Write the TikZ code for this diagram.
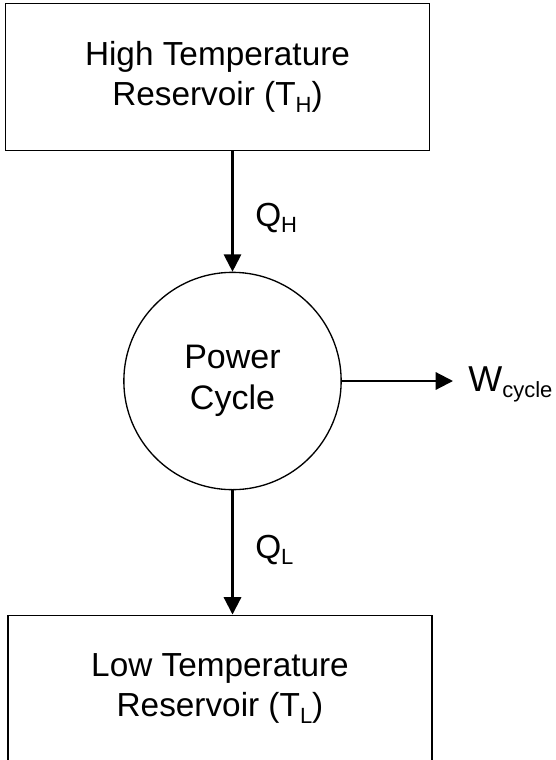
\documentclass[tikz,border=0pt]{standalone}
\usepackage{fontspec}
\setmainfont{Liberation Sans}
\usetikzlibrary{arrows.meta}
\newcommand\lowsub[1]{\raisebox{-5pt}{\fontsize{16.5}{16.5}\selectfont #1}}
\begin{document}
\begin{tikzpicture}[x=0.75pt,y=-0.75pt,
  lab/.style={font=\fontsize{25}{30}\selectfont, inner sep=0pt},
  resbox/.style={draw, line width=1pt, minimum width=318pt, minimum height=110pt, align=center, font=\fontsize{25}{30}\selectfont, inner sep=0pt},
  cyc/.style={draw, circle, line width=1pt, minimum size=163pt, align=center, font=\fontsize{25.5}{31}\selectfont, inner sep=0pt},
  flow/.style={line width=1.6pt, -{Triangle[width=13pt,length=13pt]}}]
\useasboundingbox (0,0) rectangle (556,760);
\fill[white] (0,0) rectangle (556,760);
\begin{scope}
\clip (0,0) rectangle (556,760);
\node[resbox] (top) at (217.5,77) {High Temperature\\Reservoir (T\lowsub{H})};
\node[cyc] (cycle) at (232.5,381) {Power\\Cycle};
\node[resbox] (bot) at (220,688.5) {Low Temperature\\Reservoir (T\lowsub{L})};
\end{scope}
\node[lab, anchor=base west] (qh) at (255,226) {Q\lowsub{H}};
\node[lab, anchor=base west] (ql) at (255,558) {Q\lowsub{L}};
\node[inner sep=0pt, anchor=base west, font=\fontsize{27}{30}\selectfont] (w) at (468,391) {W\lowsub{cycle}};
\coordinate (wend) at (453,381);
\draw[flow] (top.south -| cycle.north) -- (cycle.north);
\draw[flow] (cycle.south) -- (bot.north -| cycle.south);
\draw[flow] (cycle.east) -- (cycle.east -| wend);
\end{tikzpicture}
\end{document}
